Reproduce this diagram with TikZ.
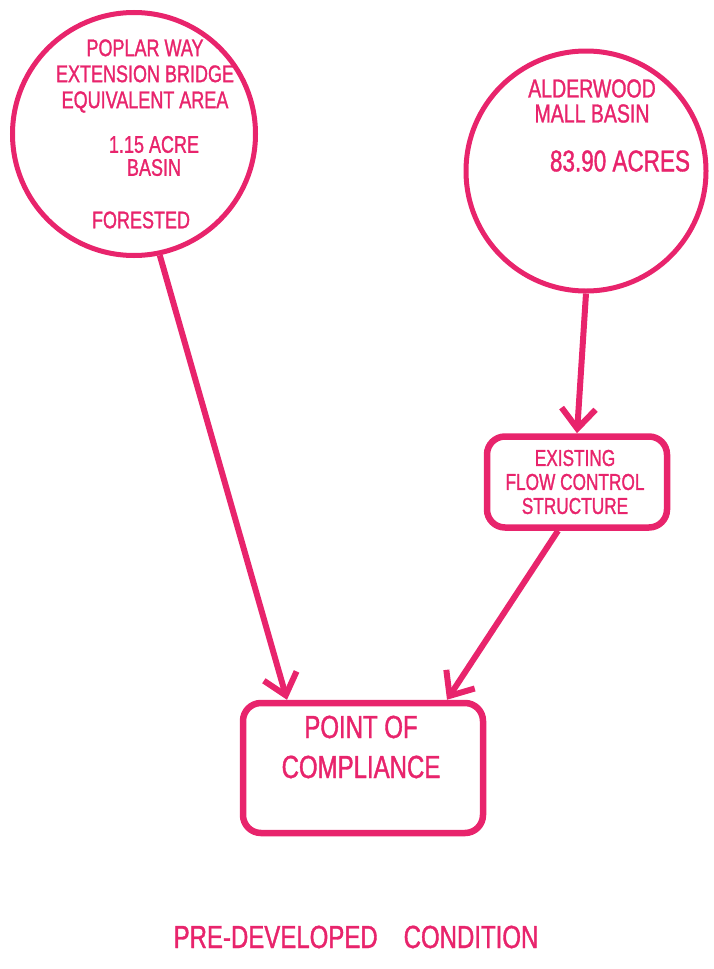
\documentclass[tikz,border=0pt]{standalone}
\usepackage{fontspec}
\setmainfont{Liberation Sans}
\newfontfamily\handfont[FakeStretch=0.75,FakeBold=1.2]{Liberation Sans}
\usetikzlibrary{arrows.meta}
\definecolor{marker}{HTML}{E8246C}
\newcommand{\handsize}[2]{\handfont\fontsize{#1}{#2}\selectfont}
\begin{document}
\begin{tikzpicture}[x=1pt, y=-1pt, >={Straight Barb[length=20pt,width=34pt,line width=6pt]},
    basin/.style={circle, draw=marker, line width=5pt, minimum size=243pt, inner sep=0pt},
    stepbox/.style={rounded corners=18pt, draw=marker, line width=6.5pt},
    hand/.style={text=marker, align=center, inner sep=0pt},
    flow/.style={->, draw=marker, line width=6pt}]
    \useasboundingbox (0,0) rectangle (713,969);
    % basins
    \node[basin] (poplar) at (134,134) {};
    \node[hand, font=\handsize{24}{26}] (poplarname) at (145,76) {POPLAR WAY\\EXTENSION BRIDGE\\EQUIVALENT AREA};
    \node[hand, font=\handsize{24}{23}] (poplararea) at (154,156) {1.15 ACRE\\BASIN};
    \node[hand, font=\handsize{24}{26}] (poplarcover) at (141,220) {FORESTED};
    \node[basin, minimum size=240pt] (alder) at (586,171) {};
    \node[hand, font=\handsize{26}{25}] (aldername) at (592,101) {ALDERWOOD\\MALL BASIN};
    \node[hand, font=\handsize{30}{30}] (alderarea) at (620,161) {83.90 ACRES};
    % structures
    \node[stepbox, minimum width=180pt, minimum height=91pt] (control) at (577,482) {};
    \node[hand, font=\handsize{23}{24}] (controltxt) at (575,482) {EXISTING\\FLOW CONTROL\\STRUCTURE};
    \node[stepbox, minimum width=240pt, minimum height=130pt] (compliance) at (363,768) {};
    \node[hand, font=\handsize{32}{40}] (compliancetxt) at (361,747) {POINT OF\\COMPLIANCE};
    % connectors
    \draw[flow] (poplar.-78) -- ([xshift=-76pt]compliance.north);
    \draw[flow] (alder.south) -- (control.north);
    \draw[flow] ([xshift=-19pt]control.south) -- ([xshift=84pt]compliance.north);
    \node[hand, font=\handsize{32}{34}] (caption) at (356,937) {PRE-DEVELOPED\hspace{26pt}CONDITION};
\end{tikzpicture}
\end{document}
